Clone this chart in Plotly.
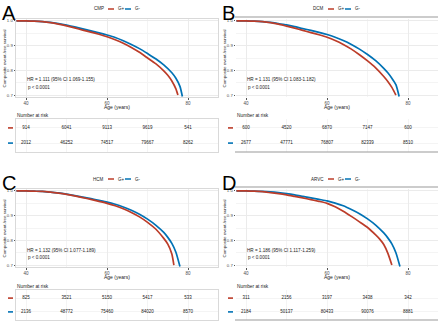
import plotly.graph_objects as go

W, H = 440, 323
RED = "#BC3C29"
BLUE = "#0072B5"
FONT = "Liberation Sans"

risk_ages = [40, 50, 60, 70, 80]

# ---- Panel A: CMP ----
a_age_pos = [37.6, 40, 42, 44, 46, 48, 50, 52, 54, 56, 58, 60, 62, 64, 66, 68, 70, 72, 74, 75, 76, 77, 77.5]
a_surv_pos = [1.000, 1.000, 0.999, 0.997, 0.993, 0.987, 0.980, 0.972, 0.963, 0.955, 0.946, 0.936, 0.924, 0.910,
              0.893, 0.873, 0.850, 0.827, 0.798, 0.780, 0.757, 0.725, 0.700]
a_age_neg = [37.6, 40, 42, 44, 46, 48, 50, 52, 54, 56, 58, 60, 62, 64, 66, 68, 70, 72, 74, 76, 77, 78, 78.6]
a_surv_neg = [1.000, 1.000, 0.999, 0.997, 0.994, 0.989, 0.983, 0.976, 0.968, 0.960, 0.952, 0.943, 0.933, 0.920,
              0.905, 0.888, 0.868, 0.847, 0.822, 0.790, 0.768, 0.735, 0.694]
a_risk_pos = [914, 6041, 9113, 9619, 541]
a_risk_neg = [2012, 46252, 74517, 79667, 8262]

# ---- Panel B: DCM ----
b_age_pos = [37.6, 40, 42, 44, 46, 48, 50, 52, 54, 56, 58, 60, 62, 64, 66, 68, 70, 72, 74, 75, 76, 76.5, 77]
b_surv_pos = [1.000, 1.000, 0.999, 0.997, 0.993, 0.987, 0.979, 0.971, 0.962, 0.953, 0.944, 0.934, 0.921, 0.905,
              0.886, 0.863, 0.838, 0.810, 0.775, 0.755, 0.731, 0.716, 0.700]
b_age_neg = [37.6, 40, 42, 44, 46, 48, 50, 52, 54, 56, 58, 60, 62, 64, 66, 68, 70, 72, 74, 75, 76, 77, 77.8]
b_surv_neg = [1.000, 1.000, 0.999, 0.997, 0.994, 0.989, 0.984, 0.977, 0.969, 0.962, 0.954, 0.945, 0.934, 0.921,
              0.905, 0.886, 0.864, 0.839, 0.808, 0.790, 0.768, 0.742, 0.694]
b_risk_pos = [600, 4520, 6870, 7147, 600]
b_risk_neg = [2677, 47771, 76807, 82339, 8510]

# ---- Panel C: HCM ----
c_age_pos = [37.6, 40, 42, 44, 46, 48, 50, 52, 54, 56, 58, 60, 62, 64, 66, 68, 70, 72, 74, 75, 76, 76.5]
c_surv_pos = [1.000, 1.000, 0.999, 0.998, 0.995, 0.991, 0.986, 0.980, 0.973, 0.966, 0.958, 0.950, 0.940, 0.928,
              0.913, 0.895, 0.873, 0.846, 0.808, 0.785, 0.745, 0.700]
c_age_neg = [37.6, 40, 42, 44, 46, 48, 50, 52, 54, 56, 58, 60, 62, 64, 66, 68, 70, 72, 74, 75, 76, 77, 78]
c_surv_neg = [1.000, 1.000, 0.999, 0.998, 0.995, 0.992, 0.987, 0.981, 0.975, 0.969, 0.962, 0.955, 0.946, 0.935,
              0.922, 0.906, 0.886, 0.862, 0.832, 0.812, 0.788, 0.752, 0.694]
c_risk_pos = [825, 3521, 5150, 5417, 533]
c_risk_neg = [2136, 48772, 75460, 84020, 8570]

# ---- Panel D: ARVC ----
d_age_pos = [37.6, 40, 42, 44, 46, 48, 50, 52, 54, 56, 58, 60, 62, 64, 66, 68, 70, 72, 73, 74, 75, 76]
d_surv_pos = [1.000, 1.000, 0.999, 0.997, 0.993, 0.989, 0.984, 0.978, 0.972, 0.965, 0.958, 0.950, 0.936, 0.918,
              0.897, 0.875, 0.852, 0.822, 0.805, 0.783, 0.748, 0.700]
d_age_neg = [37.6, 40, 42, 44, 46, 48, 50, 52, 54, 56, 58, 60, 62, 64, 66, 68, 70, 72, 74, 75, 76, 77, 78]
d_surv_neg = [1.000, 1.000, 0.999, 0.998, 0.996, 0.993, 0.989, 0.984, 0.978, 0.972, 0.966, 0.960, 0.951, 0.940,
              0.925, 0.908, 0.887, 0.862, 0.830, 0.810, 0.786, 0.750, 0.694]
d_risk_pos = [311, 2156, 3197, 3438, 342]
d_risk_neg = [2184, 50137, 80433, 90076, 8881]

panels = [
    dict(letter="A", name="CMP", hr="HR = 1.111 (95% CI 1.069-1.155)", dx=0, dy=0, framed=True,
         ap=a_age_pos, sp=a_surv_pos, an=a_age_neg, sn=a_surv_neg, rp=a_risk_pos, rn=a_risk_neg),
    dict(letter="B", name="DCM", hr="HR = 1.131 (95% CI 1.083-1.182)", dx=220, dy=0, framed=False,
         ap=b_age_pos, sp=b_surv_pos, an=b_age_neg, sn=b_surv_neg, rp=b_risk_pos, rn=b_risk_neg),
    dict(letter="C", name="HCM", hr="HR = 1.132 (95% CI 1.077-1.189)", dx=0, dy=170, framed=True,
         ap=c_age_pos, sp=c_surv_pos, an=c_age_neg, sn=c_surv_neg, rp=c_risk_pos, rn=c_risk_neg),
    dict(letter="D", name="ARVC", hr="HR = 1.186 (95% CI 1.117-1.259)", dx=220, dy=170, framed=False,
         ap=d_age_pos, sp=d_surv_pos, an=d_age_neg, sn=d_surv_neg, rp=d_risk_pos, rn=d_risk_neg),
]


def fx(px):
    return px / W


def fy(py):
    return 1 - py / H


fig = go.Figure()
layout = dict(width=W, height=H, margin=dict(l=0, r=0, t=0, b=0), showlegend=False,
              plot_bgcolor="white", paper_bgcolor="white", font=dict(family=FONT, color="#333"))
annotations = []
shapes = []

XR = [37.5, 87.4]
TXT = "#4d4d4d"
GRID = "#ebebeb"
MINOR = "#f4f4f4"

for i, p in enumerate(panels):
    dx, dy = p["dx"], p["dy"]
    k1, k2 = 2 * i + 1, 2 * i + 2
    xa1 = "x" if k1 == 1 else f"x{k1}"
    ya1 = "y" if k1 == 1 else f"y{k1}"
    xa2, ya2 = f"x{k2}", f"y{k2}"
    top, bot = dy + 19, dy + 97
    ttop, tbot = (dy + 119, dy + 152) if dy == 0 else (dy + 120, dy + 150)
    xdom = [fx(dx + 16), fx(dx + 218)]
    frame = "#d9d9d9" if p["framed"] else "rgba(0,0,0,0)"

    layout["xaxis" + ("" if k1 == 1 else str(k1))] = dict(
        domain=xdom, anchor=ya1, range=XR, tickvals=[40, 60, 80], ticks="outside", ticklen=2,
        tickcolor="#555", tickfont=dict(size=4.5, color=TXT), showgrid=True, gridcolor=GRID,
        gridwidth=0.6, minor=dict(tickvals=[50, 70], showgrid=True, gridcolor=MINOR, gridwidth=0.5),
        zeroline=False, showline=True, linecolor=frame, linewidth=0.7, mirror=True, automargin=False)
    layout["yaxis" + ("" if k1 == 1 else str(k1))] = dict(
        domain=[fy(bot), fy(top)], anchor=xa1, range=[0.692, 1.008], tickvals=[0.7, 0.8, 0.9, 1.0],
        ticktext=["0.7", "0.8", "0.9", "1.0"], ticks="outside", ticklen=1.5, tickcolor="#555",
        tickfont=dict(size=4.3, color=TXT), showgrid=True, gridcolor=GRID, gridwidth=0.6,
        minor=dict(tickvals=[0.75, 0.85, 0.95], showgrid=True, gridcolor=MINOR, gridwidth=0.5),
        zeroline=False, showline=True, linecolor=frame, linewidth=0.7, mirror=True, automargin=False)
    layout[f"xaxis{k2}"] = dict(
        domain=xdom, anchor=ya2, range=XR, tickvals=risk_ages, showticklabels=False, ticks="",
        showgrid=True, gridcolor=MINOR, gridwidth=0.5, zeroline=False, showline=True,
        linecolor=frame, linewidth=0.7, mirror=True, automargin=False)
    layout[f"yaxis{k2}"] = dict(
        domain=[fy(tbot), fy(ttop)], anchor=xa2, range=[0, 1], tickvals=[0.27, 0.73],
        showticklabels=False, ticks="", showgrid=True, gridcolor=MINOR, gridwidth=0.5,
        zeroline=False, showline=True, linecolor=frame, linewidth=0.7, mirror=True, automargin=False)

    if not p["framed"]:
        shapes.append(dict(type="line", xref="paper", yref="paper", x0=fx(dx + 15), x1=fx(dx + 218),
                           y0=fy(dy + 17), y1=fy(dy + 17), line=dict(color="#9a9a9a", width=1.2)))
        shapes.append(dict(type="line", xref="paper", yref="paper", x0=fx(dx + 15), x1=fx(dx + 218),
                           y0=fy(tbot), y1=fy(tbot), line=dict(color="#9a9a9a", width=1.2)))

    # survival curves
    fig.add_trace(go.Scatter(x=p["an"], y=p["sn"], mode="lines",
                             line=dict(color=BLUE, width=1.7, shape="spline", smoothing=0.6),
                             xaxis=xa1, yaxis=ya1, hoverinfo="skip"))
    fig.add_trace(go.Scatter(x=p["ap"], y=p["sp"], mode="lines",
                             line=dict(color=RED, width=1.7, shape="spline", smoothing=0.6),
                             xaxis=xa1, yaxis=ya1, hoverinfo="skip"))
    # risk table
    fig.add_trace(go.Scatter(x=risk_ages, y=[0.73] * 5, mode="text", text=[str(v) for v in p["rp"]],
                             textfont=dict(size=4.5, color="#222"), xaxis=xa2, yaxis=ya2, hoverinfo="skip"))
    fig.add_trace(go.Scatter(x=risk_ages, y=[0.27] * 5, mode="text", text=[str(v) for v in p["rn"]],
                             textfont=dict(size=4.5, color="#222"), xaxis=xa2, yaxis=ya2, hoverinfo="skip"))

    # letter
    annotations.append(dict(text=p["letter"], x=fx(dx + 1), y=fy(dy + 0.5), xref="paper", yref="paper",
                            xanchor="left", yanchor="top", showarrow=False, borderpad=0,
                            font=dict(size=20, color="black", family=FONT)))
    # legend
    ly = fy(dy + 9)
    annotations.append(dict(text=p["name"], x=fx(dx + 106), y=ly, xref="paper", yref="paper",
                            xanchor="right", yanchor="middle", showarrow=False, font=dict(size=4.5, color="#222")))
    shapes.append(dict(type="line", xref="paper", yref="paper", x0=fx(dx + 108), x1=fx(dx + 114), y0=ly, y1=ly,
                       line=dict(color=RED, width=1.5)))
    annotations.append(dict(text="G+", x=fx(dx + 116), y=ly, xref="paper", yref="paper",
                            xanchor="left", yanchor="middle", showarrow=False, font=dict(size=4.5, color="#222")))
    shapes.append(dict(type="line", xref="paper", yref="paper", x0=fx(dx + 125), x1=fx(dx + 131), y0=ly, y1=ly,
                       line=dict(color=BLUE, width=1.5)))
    annotations.append(dict(text="G-", x=fx(dx + 133), y=ly, xref="paper", yref="paper",
                            xanchor="left", yanchor="middle", showarrow=False, font=dict(size=4.5, color="#222")))
    # y title
    annotations.append(dict(text="Composite event-free survival", x=fx(dx + 3.5), y=fy(dy + 59), xref="paper",
                            yref="paper", xanchor="center", yanchor="middle", textangle=-90, showarrow=False,
                            borderpad=0, font=dict(size=4.4, color="#222")))
    # x title
    annotations.append(dict(text="Age (years)", x=fx(dx + 117), y=fy(dy + 107), xref="paper", yref="paper",
                            xanchor="center", yanchor="middle", showarrow=False, font=dict(size=5, color="#222")))
    # HR text
    annotations.append(dict(text=p["hr"], x=fx(dx + 25), y=fy(dy + 80), xref="paper", yref="paper",
                            xanchor="left", yanchor="middle", showarrow=False, font=dict(size=4.6, color="#222")))
    annotations.append(dict(text="p < 0.0001", x=fx(dx + 26), y=fy(dy + 87), xref="paper", yref="paper",
                            xanchor="left", yanchor="middle", showarrow=False, font=dict(size=4.6, color="#222")))
    # Number at risk
    annotations.append(dict(text="Number at risk", x=fx(dx + 15), y=fy(ttop - 4), xref="paper", yref="paper",
                            xanchor="left", yanchor="middle", showarrow=False, font=dict(size=4.8, color="#222")))
    # row markers
    for frac, col in [(0.73, RED), (0.27, BLUE)]:
        yy = fy(tbot) + frac * (fy(ttop) - fy(tbot))
        shapes.append(dict(type="line", xref="paper", yref="paper", x0=fx(dx + 8), x1=fx(dx + 13), y0=yy, y1=yy,
                           line=dict(color=col, width=1.6)))

layout["annotations"] = annotations
layout["shapes"] = shapes
layout["hovermode"] = False
fig.update_layout(**layout)
fig.write_html("out.html", config={"displayModeBar": False},
               post_script="document.body.style.margin='0';document.body.style.overflow='hidden';")
